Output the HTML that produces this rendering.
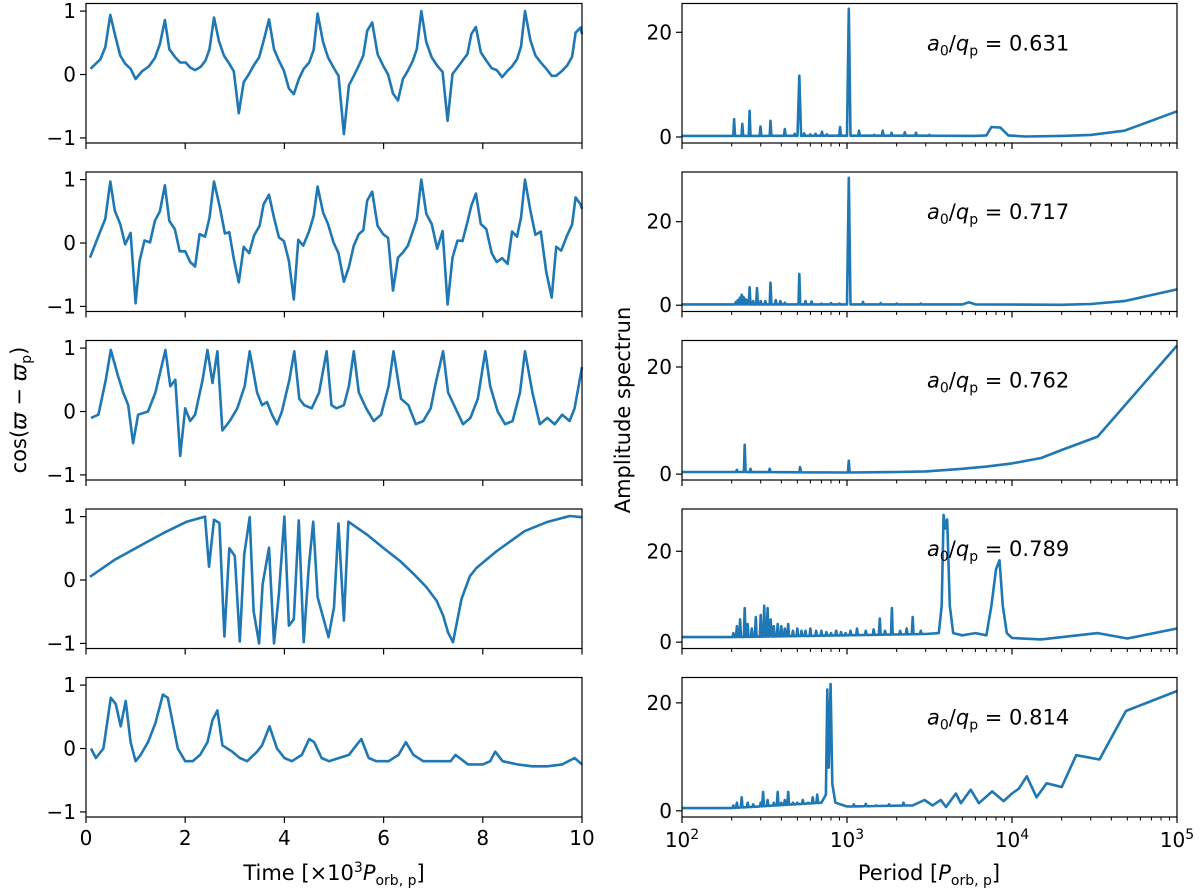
<!DOCTYPE html>
<html><head><meta charset="utf-8"><style>
body{margin:0;background:#fff}
svg{display:block;font-family:"DejaVu Sans","Liberation Sans",sans-serif}
</style></head><body>
<svg id="fig" width="1200" height="893" viewBox="0 0 1200 893" xmlns="http://www.w3.org/2000/svg"></svg>
<script>
// ---- Left time-series data ----
const t1=[0.09,0.29,0.39,0.49,0.58,0.69,0.79,0.9,1.0,1.13,1.27,1.39,1.49,1.59,1.68,1.8,1.9,2.01,2.1,2.2,2.31,2.41,2.49,2.58,2.68,2.78,2.89,2.98,3.08,3.18,3.28,3.38,3.49,3.59,3.69,3.79,3.89,3.99,4.09,4.19,4.29,4.39,4.5,4.59,4.67,4.78,4.88,4.99,5.09,5.2,5.3,5.4,5.5,5.59,5.67,5.77,5.88,5.99,6.09,6.19,6.29,6.39,6.49,6.59,6.67,6.76,6.86,6.97,7.08,7.19,7.29,7.39,7.49,7.59,7.69,7.77,7.86,7.96,8.07,8.18,8.28,8.39,8.5,8.59,8.69,8.77,8.85,8.96,9.06,9.17,9.28,9.39,9.48,9.6,9.7,9.8,9.87,9.97,10];
const v1=[0.09,0.24,0.43,0.94,0.64,0.3,0.17,0.09,-0.07,0.05,0.13,0.26,0.48,0.86,0.4,0.27,0.19,0.19,0.11,0.07,0.12,0.22,0.4,0.9,0.53,0.3,0.17,0.05,-0.61,-0.12,0,0.14,0.27,0.56,0.87,0.4,0.22,0.06,-0.22,-0.31,-0.07,0.09,0.19,0.39,0.96,0.51,0.27,0.11,-0.02,-0.94,-0.17,-0.02,0.14,0.3,0.69,0.82,0.32,0.14,0,-0.3,-0.41,-0.07,0.06,0.22,0.4,1.0,0.51,0.27,0.14,0.04,-0.73,0.01,0.11,0.22,0.32,0.64,0.75,0.35,0.22,0.1,0.07,-0.04,0.06,0.13,0.24,0.44,1.0,0.54,0.3,0.19,0.09,-0.02,-0.02,0.06,0.14,0.28,0.66,0.74,0.64];
const t2=[0.08,0.29,0.39,0.49,0.58,0.69,0.79,0.9,1.0,1.08,1.18,1.29,1.39,1.49,1.59,1.68,1.79,1.89,2.0,2.1,2.2,2.29,2.4,2.49,2.58,2.7,2.8,2.89,2.98,3.08,3.18,3.29,3.39,3.5,3.58,3.69,3.79,3.89,3.99,4.09,4.19,4.28,4.38,4.5,4.59,4.67,4.78,4.88,4.99,5.09,5.2,5.3,5.4,5.5,5.59,5.67,5.77,5.88,5.99,6.09,6.19,6.29,6.39,6.49,6.59,6.67,6.76,6.86,6.97,7.08,7.19,7.29,7.39,7.49,7.59,7.69,7.77,7.86,7.96,8.07,8.18,8.28,8.39,8.5,8.59,8.69,8.77,8.85,8.96,9.06,9.17,9.28,9.39,9.48,9.58,9.7,9.8,9.87,9.97,10];
const v2=[-0.23,0.19,0.38,0.97,0.51,0.3,-0.02,0.16,-0.95,-0.28,0.04,0.01,0.35,0.5,0.91,0.35,0.22,-0.13,-0.13,-0.3,-0.37,0.14,0.1,0.4,0.97,0.56,0.15,0.17,-0.25,-0.62,-0.06,-0.16,0.12,0.27,0.61,0.76,0.4,0.09,0.03,-0.28,-0.89,0.05,-0.04,0.19,0.43,0.89,0.48,0.3,0.01,-0.16,-0.61,-0.38,-0.04,0.14,0.2,0.67,0.81,0.27,0.14,0.08,-0.75,-0.23,-0.15,-0.04,0.19,0.38,1.0,0.46,0.3,-0.09,0.19,-0.97,-0.23,0.04,0.03,0.33,0.59,0.78,0.3,0.22,-0.16,-0.3,-0.24,-0.33,0.18,0.1,0.4,1.0,0.51,0.13,0.18,-0.46,-0.86,-0.06,-0.12,0.12,0.29,0.72,0.61,0.54];
const t3=[0.1,0.25,0.4,0.5,0.65,0.75,0.85,0.95,1.05,1.25,1.4,1.6,1.7,1.8,1.9,2.0,2.1,2.2,2.35,2.45,2.55,2.65,2.75,2.9,3.05,3.2,3.3,3.45,3.55,3.65,3.75,3.85,3.95,4.1,4.2,4.3,4.4,4.55,4.7,4.85,4.95,5.05,5.2,5.3,5.4,5.5,5.65,5.8,5.95,6.1,6.2,6.35,6.5,6.65,6.8,6.95,7.05,7.2,7.3,7.45,7.6,7.75,7.9,8.05,8.15,8.3,8.45,8.6,8.75,8.85,9.0,9.15,9.3,9.45,9.6,9.75,9.85,10];
const v3=[-0.1,-0.05,0.5,0.97,0.55,0.3,0.1,-0.5,-0.05,0.0,0.3,0.97,0.4,0.5,-0.7,0.05,-0.15,-0.05,0.5,0.97,0.45,0.95,-0.3,-0.15,0.05,0.4,0.95,0.3,0.1,0.15,-0.05,-0.2,0.0,0.5,0.95,0.2,0.1,0.05,0.3,0.95,0.1,0.05,0.1,0.4,0.95,0.3,0.05,-0.15,-0.05,0.4,0.95,0.2,0.1,-0.2,-0.15,0.05,0.45,0.95,0.3,0.05,-0.2,-0.1,0.2,0.95,0.4,0.0,-0.2,-0.15,0.3,0.95,0.3,-0.2,-0.1,-0.2,-0.05,-0.15,0.05,0.7];
const t4=[0.08,0.58,1.16,1.56,2.03,2.4,2.48,2.58,2.69,2.79,2.89,3.0,3.1,3.19,3.3,3.38,3.49,3.56,3.69,3.79,3.89,4.0,4.09,4.19,4.29,4.39,4.49,4.58,4.67,4.89,5.0,5.09,5.2,5.29,5.66,5.99,6.33,6.6,6.86,7.07,7.2,7.3,7.4,7.57,7.74,7.87,8.27,8.84,9.28,9.75,10];
const v4=[0.05,0.32,0.57,0.74,0.92,1.0,0.21,0.95,0.9,-0.89,0.5,0.38,-0.97,0.4,0.99,-0.49,-1.0,-0.07,0.51,-1.0,-0.22,1.0,-0.72,-0.62,0.94,-0.98,0.19,0.92,-0.27,-0.9,-0.43,0.89,-0.64,0.92,0.72,0.51,0.3,0.1,-0.11,-0.33,-0.56,-0.83,-0.98,-0.3,0.06,0.19,0.45,0.77,0.91,1.01,0.99];
const t5=[0.1,0.2,0.35,0.5,0.6,0.7,0.8,0.9,1.0,1.1,1.25,1.4,1.55,1.65,1.75,1.85,2.0,2.15,2.3,2.45,2.55,2.65,2.75,2.95,3.1,3.25,3.45,3.55,3.7,3.85,4.0,4.15,4.35,4.5,4.6,4.75,4.9,5.1,5.3,5.45,5.55,5.7,5.85,6.1,6.3,6.45,6.6,6.8,7.1,7.35,7.45,7.7,8.0,8.15,8.25,8.4,8.7,9.0,9.3,9.6,9.85,10];
const v5=[0,-0.15,0.0,0.8,0.7,0.35,0.75,0.1,-0.2,-0.1,0.1,0.4,0.85,0.8,0.4,0.0,-0.2,-0.2,-0.1,0.1,0.45,0.6,0.05,-0.05,-0.15,-0.2,-0.05,0.05,0.35,0.0,-0.15,-0.2,-0.1,0.15,0.1,-0.15,-0.2,-0.15,-0.1,0.05,0.15,-0.15,-0.2,-0.2,-0.1,0.1,-0.1,-0.2,-0.2,-0.2,-0.1,-0.25,-0.25,-0.2,-0.05,-0.2,-0.25,-0.28,-0.28,-0.25,-0.15,-0.25];

// ---- Right spectrum data ----
const baseP1=[100,200,1000,3000,6000,7000,7500,8500,9500,12000,20000,30000,48000,100000];
const baseA1=[0.2,0.2,0.25,0.25,0.2,0.3,1.9,1.8,0.3,0.1,0.2,0.4,1.2,4.9];
const spikeP1=[207,232,257,299,344,420,482,514,550,600,645,705,755,908,1025,1183,1465,1645,1862,2240,2620,3160];
const spikeA1=[3.4,2.5,5.0,2.0,3.1,1.5,0.6,11.7,0.7,0.5,0.6,1.0,0.5,1.9,24.5,1.2,0.4,1.2,0.8,0.9,0.8,0.4];
const baseP2=[100,200,1000,5000,5500,6000,20000,30000,48000,100000];
const baseA2=[0.2,0.2,0.2,0.2,0.7,0.2,0.1,0.3,1.0,3.8];
const spikeP2=[212,218,224,230,236,242,248,257,270,285,300,320,344,370,395,420,514,560,610,700,800,900,1025,1250,1600,2000,2800];
const spikeA2=[0.8,1.2,1.8,2.5,2.0,1.5,1.2,4.3,1.0,4.1,1.0,1.0,5.4,1.2,1.0,0.6,7.5,1.0,0.9,0.4,0.5,0.4,30.5,0.8,0.5,0.4,0.4];
const baseP3=[100,200,1000,2000,3000,5000,7000,10000,15000,20000,33000,100000];
const baseA3=[0.4,0.4,0.3,0.4,0.5,1.0,1.4,2.0,3.0,4.5,7.0,24];
const spikeP3=[215,240,260,340,520,1025];
const spikeA3=[0.8,5.5,1.0,1.0,1.3,2.5];
const baseP4=[100,200,1000,3000,3600,3750,3850,3950,4050,4200,4400,5000,6000,7000,7500,8000,8400,8800,9300,10000,15000,33000,50000,100000];
const baseA4=[1.1,1.1,1.5,1.8,2.0,8,28,25,27,8,2.0,1.5,2.0,1.5,8,16,18,8,2,0.9,0.6,2.0,0.8,3.0];
const spikeP4=[205,215,225,240,250,265,280,300,315,330,345,360,380,400,420,440,470,500,530,560,600,650,700,750,800,860,920,980,1050,1150,1300,1450,1580,1700,1870,2100,2300,2500,2800];
const spikeA4=[2,3.5,5,7.5,4,3,5.5,6,8,7.5,5,3.5,4,3.5,3,4,2.5,3,2.5,2.5,3,2.5,2.5,2.2,2,2.5,2.2,2,2.5,3.0,2.5,2.8,5.2,2.5,7.5,2.5,3.0,5.5,2.5];
const baseP5=[100,200,700,745,760,775,795,815,850,1000,2500,2950,3300,3700,3980,4570,4900,5620,6300,7590,8900,10000,11000,12300,14100,16200,20000,24500,33900,49000,100000];
const baseA5=[0.5,0.5,1.5,3,22.5,8,23.5,5,1.5,0.8,1.0,2,1,2,0.7,3.2,1.4,3.9,1.4,3.6,1.8,3.2,4.1,6.4,2.5,5.1,4.4,10.3,9.5,18.5,22.2];
const spikeP5=[205,215,230,250,270,300,310,330,360,380,400,420,440,470,500,540,580,620,660,1100,1300,1500,1800,2200];
const spikeA5=[1,1.5,2.5,1.5,1.2,1.5,3.5,2,1.5,3.5,1.5,2,3.5,1.5,1.5,2,1.5,2.5,3,1.2,1.3,1.0,1.2,1.5];
const labels=["0.631","0.717","0.762","0.789","0.814"];
const yTicksR=[0,20];
const yTicksL=[-1,0,1];
const xTicksL=[0,2,4,6,8,10];

const NS="http://www.w3.org/2000/svg";
const svg=document.getElementById('fig');
const COL="#1f77b4";
function mk(tag,attrs,parent){const e=document.createElementNS(NS,tag);for(const k in attrs)e.setAttribute(k,attrs[k]);(parent||svg).appendChild(e);return e;}

const LX0=86,LX1=582,RX0=682,RX1=1177,TOP0=3.5,PITCH=168.5,H=139.5;
const rYlim=[[-1.15,25.5],[-1.5,31.9],[-1.1,24.95],[-1.4,29.3],[-1.15,24.7]];
const lData=[[t1,v1],[t2,v2],[t3,v3],[t4,v4],[t5,v5]];
const rData=[[baseP1,baseA1,spikeP1,spikeA1],[baseP2,baseA2,spikeP2,spikeA2],[baseP3,baseA3,spikeP3,spikeA3],[baseP4,baseA4,spikeP4,spikeA4],[baseP5,baseA5,spikeP5,spikeA5]];

function baseAt(P,bp,ba){const l=Math.log10(P);for(let i=0;i<bp.length-1;i++){const a=Math.log10(bp[i]),b=Math.log10(bp[i+1]);if(l>=a&&l<=b){return ba[i]+(ba[i+1]-ba[i])*(l-a)/(b-a);}}return ba[ba.length-1];}

for(let i=0;i<5;i++){
  const top=TOP0+PITCH*i,bot=top+H;
  // LEFT
  const g=mk('g',{});
  
  
  const xs=t=>LX0+(t-0)/(10-0)*(LX1-LX0);
  const ys=v=>bot-(v-(-1.08))/(1.12-(-1.08))*H;
  const [tt,vv]=lData[i];
  let d=tt.map((t,k)=>(k?'L':'M')+xs(t).toFixed(1)+','+ys(vv[k]).toFixed(1)).join('');
  const ln=mk('path',{d:d,fill:'none',stroke:COL,'stroke-width':2.6,'stroke-linejoin':'round'},g);
  
  
  const fr=mk('rect',{x:LX0,y:top,width:LX1-LX0,height:H,fill:'none',stroke:'#000','stroke-width':1.2},g);
  
  
  yTicksL.forEach(v=>{const y=ys(v);mk('line',{x1:LX0-6,x2:LX0,y1:y,y2:y,stroke:'#000','stroke-width':1.2},g);
    const tx=mk('text',{x:LX0-10,y:y+7,'text-anchor':'end','font-size':20},g);tx.textContent=v<0?'\u2212'+(-v):String(v);
    });
  xTicksL.forEach(t=>{const x=xs(t);mk('line',{x1:x,x2:x,y1:bot,y2:bot+6,stroke:'#000','stroke-width':1.2},g);
    if(i===4){const tx=mk('text',{x:x,y:bot+28,'text-anchor':'middle','font-size':20},g);tx.textContent=String(t);
    }});
  // RIGHT
  const g2=mk('g',{});
  
  
  const px=P=>RX0+(Math.log10(P)-2)/3*(RX1-RX0);
  const [y0,y1]=rYlim[i];
  const py=A=>bot-(A-y0)/(y1-y0)*H;
  const [bp,ba,sp,sa]=rData[i];
  let pts=bp.map((p,k)=>[p,ba[k]]);
  sp.forEach((p,k)=>{const w=sa[k]>10?1.025:1.012;pts.push([p/w,baseAt(p/w,bp,ba)]);pts.push([p,sa[k]]);pts.push([p*w,baseAt(p*w,bp,ba)]);});
  pts.sort((a,b)=>a[0]-b[0]);
  let d2=pts.map((q,k)=>(k?'L':'M')+px(q[0]).toFixed(1)+','+py(q[1]).toFixed(1)).join('');
  const ln2=mk('path',{d:d2,fill:'none',stroke:COL,'stroke-width':2.6,'stroke-linejoin':'round'},g2);
  
  
  const fr2=mk('rect',{x:RX0,y:top,width:RX1-RX0,height:H,fill:'none',stroke:'#000','stroke-width':1.2},g2);
  
  
  yTicksR.forEach(v=>{const y=py(v);mk('line',{x1:RX0-6,x2:RX0,y1:y,y2:y,stroke:'#000','stroke-width':1.2},g2);
    const tx=mk('text',{x:RX0-10,y:y+7,'text-anchor':'end','font-size':20},g2);tx.textContent=String(v);
    });
  for(let e=2;e<=5;e++){const x=px(Math.pow(10,e));mk('line',{x1:x,x2:x,y1:bot,y2:bot+6,stroke:'#000','stroke-width':1.2},g2);
    if(e<5)for(let m=2;m<10;m++){const xm=px(m*Math.pow(10,e));mk('line',{x1:xm,x2:xm,y1:bot,y2:bot+3.5,stroke:'#000','stroke-width':1},g2);}
    if(i===4){const tx=mk('text',{x:x,y:bot+30,'text-anchor':'middle','font-size':20},g2);
      tx.textContent='10';const s=mk('tspan',{dy:-8,'font-size':14},tx);s.textContent=String(e);
      }}
  const an=mk('text',{x:927,y:top+47,'font-size':21},g2);
  
  
  an.innerHTML='<tspan font-style="italic">a</tspan><tspan font-size="14" dy="5">0</tspan><tspan dy="-5">/</tspan><tspan font-style="italic">q</tspan><tspan font-size="14" dy="5">p</tspan><tspan dy="-5"> = '+labels[i]+'</tspan>';
}
</script>
<svg width="0" height="0"></svg>
<script>
(function(){
const NS="http://www.w3.org/2000/svg";const svg=document.getElementById('fig');
function t(x,y,html,name,rot){const e=document.createElementNS(NS,'text');e.setAttribute('x',x);e.setAttribute('y',y);e.setAttribute('font-size','21');e.setAttribute('text-anchor','middle');if(rot)e.setAttribute('transform','rotate(-90 '+x+' '+y+')');e.innerHTML=html;


svg.appendChild(e);}
t(334,880,'Time [×10<tspan font-size="14" dy="-8">3</tspan><tspan dy="8" font-style="italic">P</tspan><tspan font-size="14" dy="5">orb, p</tspan><tspan dy="-5">]</tspan>','x-axis-title-time');
t(929,880,'Period [<tspan font-style="italic">P</tspan><tspan font-size="14" dy="5">orb, p</tspan><tspan dy="-5">]</tspan>','x-axis-title-period');
t(26,410,'cos(<tspan font-style="italic">ϖ</tspan> − <tspan font-style="italic">ϖ</tspan><tspan font-size="14" dy="5">p</tspan><tspan dy="-5">)</tspan>','y-axis-title-cos',true);
t(630,410,'Amplitude spectrun','y-axis-title-amplitude',true);
})();
</script>
</body></html>
